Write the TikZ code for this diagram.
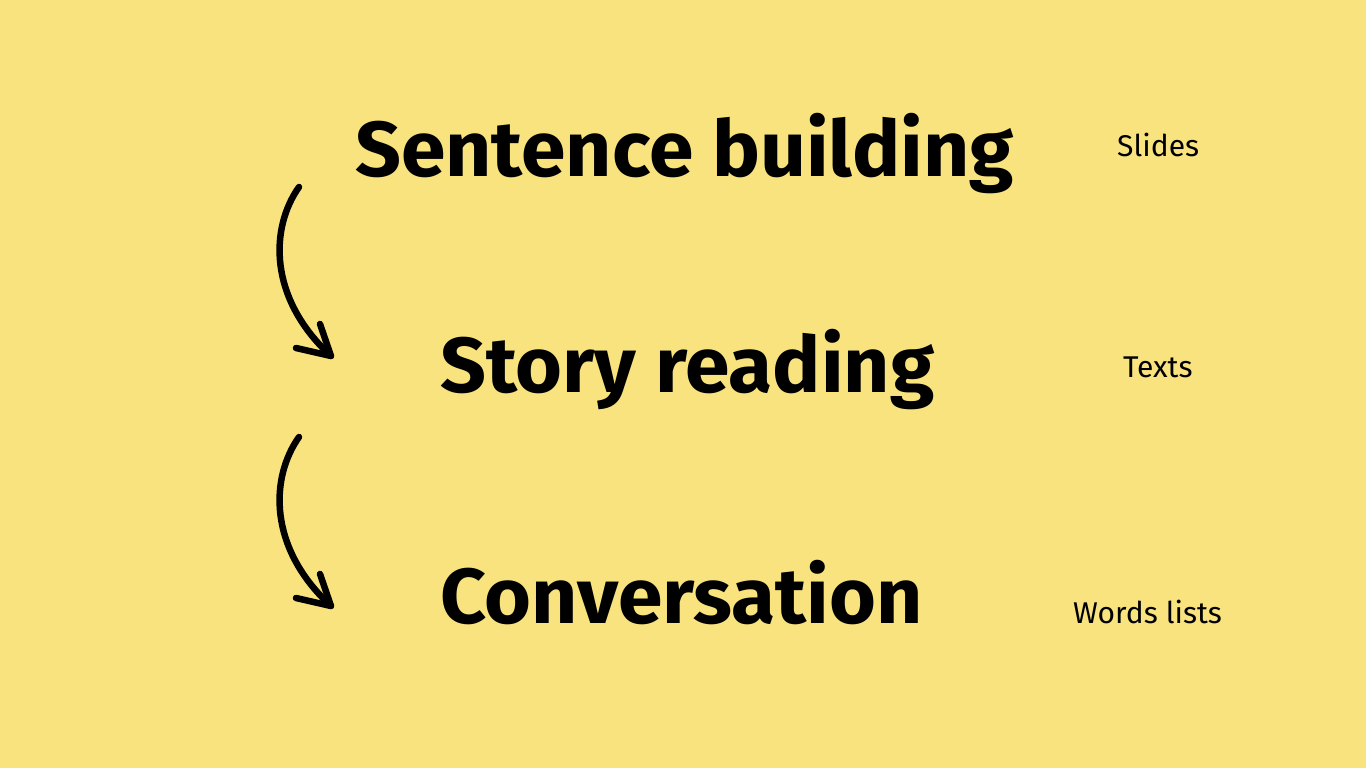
\documentclass[tikz,border=0pt]{standalone}
\usepackage{fontspec}
\setmainfont{Fira Sans}
\definecolor{bg}{HTML}{F8E37E}
\newcommand{\wide}[1]{\scalebox{1.03}[1]{#1}}
\begin{document}
\begin{tikzpicture}[x=1pt,y=-1pt,
  big/.style={anchor=base west,inner sep=0pt,font=\fontsize{78}{80}\selectfont\bfseries},
  small/.style={anchor=base west,inner sep=0pt,font=\fontsize{30}{32}\selectfont},
  arr/.style={line width=6.5pt,line cap=round,line join=round}]
\fill[bg] (0,0) rectangle (1366,768);
\useasboundingbox (0,0) rectangle (1366,768);
\node[big] (s1) at (355,176) {\wide{Sentence building}};
\node[big] (s2) at (440,392) {\wide{Story reading}};
\node[big] (s3) at (440,623) {\wide{Conversation}};
\node[small] (t1) at (1117,156) {Slides};
\node[small] (t2) at (1123,377) {Texts};
\node[small] (t3) at (1073,623) {Words lists};
\coordinate (a1s) at (299,187);
\coordinate (a1t) at (331,356);
\coordinate (a1l) at (296,348);
\coordinate (a1r) at (320,324);
\draw[arr] (a1s) .. controls (270,228) and (268,298) .. (a1t);
\draw[arr] (a1l) -- (a1t) -- (a1r);
\coordinate (a2s) at (299,437);
\coordinate (a2t) at (331,606);
\coordinate (a2l) at (296,598);
\coordinate (a2r) at (320,574);
\draw[arr] (a2s) .. controls (270,478) and (268,548) .. (a2t);
\draw[arr] (a2l) -- (a2t) -- (a2r);
\end{tikzpicture}
\end{document}
